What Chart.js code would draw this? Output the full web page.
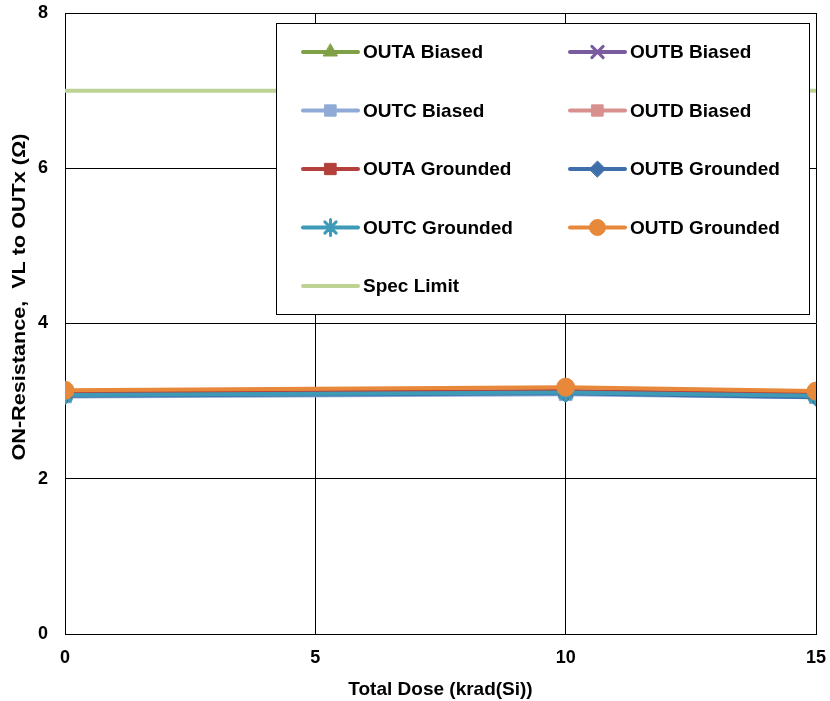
<!DOCTYPE html>
<html>
<head>
<meta charset="utf-8">
<script src="https://cdn.jsdelivr.net/npm/chart.js@4/dist/chart.umd.min.js"></script>
<style>
  html, body { margin: 0; padding: 0; background: #fff; }
  canvas { display: block; }
</style>
</head>
<body>
<canvas id="c" width="830" height="701"></canvas>
<script>
// Total dose steps (krad(Si))
const doses = [0, 10, 15];

// ON-resistance, VL to OUTx (ohm), per output and bias condition
const outaBiased   = [3.09, 3.12, 3.08];
const outbBiased   = [3.08, 3.11, 3.07];
const outcBiased   = [3.06, 3.09, 3.05];
const outdBiased   = [3.08, 3.11, 3.07];
const outaGrounded = [3.10, 3.13, 3.09];
const outbGrounded = [3.07, 3.10, 3.05];
const outcGrounded = [3.08, 3.11, 3.07];
const outdGrounded = [3.14, 3.18, 3.13];

// Spec limit line
const specDoses = [0, 15];
const specLimit = [7, 7];

const xTicks = [0, 5, 10, 15];
const yTicks = [0, 2, 4, 6, 8];

const yTitle = 'ON-Resistance,  VL to OUTx (Ω)';
const xTitle = 'Total Dose (krad(Si))';

const FONT = "'Liberation Sans', Arial, sans-serif";

function pts(xs, ys) { return xs.map((x, i) => ({ x: x, y: ys[i] })); }

function series(label, values, color, style, order) {
  return {
    label: label,
    data: pts(doses, values),
    borderColor: color,
    backgroundColor: color,
    pointBackgroundColor: color,
    pointBorderColor: color,
    borderWidth: 4,
    pointStyle: style,
    pointRadius: 9,
    pointBorderWidth: (style === 'crossRot' || style === 'star') ? 4 : 1,
    tension: 0,
    order: order
  };
}

const datasets = [
  series('OUTA Biased',   outaBiased,   '#7FA046', 'triangle', 9),
  series('OUTB Biased',   outbBiased,   '#7A5C9E', 'crossRot', 8),
  series('OUTC Biased',   outcBiased,   '#8FAAD6', 'rect',     7),
  series('OUTD Biased',   outdBiased,   '#D8908E', 'rect',     6),
  series('OUTA Grounded', outaGrounded, '#B4403C', 'rect',     5),
  series('OUTB Grounded', outbGrounded, '#3F6FAA', 'rectRot',  4),
  series('OUTC Grounded', outcGrounded, '#3D9BB8', 'star',     3),
  series('OUTD Grounded', outdGrounded, '#E8883A', 'circle',   2),
  {
    label: 'Spec Limit',
    data: pts(specDoses, specLimit),
    borderColor: '#BCD393',
    backgroundColor: '#BCD393',
    borderWidth: 4,
    pointRadius: 0,
    pointStyle: false,
    order: 1
  }
];

// Boxed two-column legend drawn inside the plot area, plus the tall y-axis title
const boxLegend = {
  id: 'boxLegend',
  afterDraw(chart) {
    const ctx = chart.ctx;
    const left = 276, top = 23, right = 809, bottom = 314;
    ctx.save();
    ctx.fillStyle = '#fff';
    ctx.fillRect(left, top, right - left, bottom - top);
    ctx.strokeStyle = '#000';
    ctx.lineWidth = 1;
    ctx.strokeRect(left + 0.5, top + 0.5, right - left, bottom - top);

    const cols = [303, 570];
    const rows = [52, 110.5, 169, 227.5, 286];
    ctx.font = 'bold 19px ' + FONT;
    ctx.textBaseline = 'middle';
    ctx.textAlign = 'left';
    chart.data.datasets.forEach((ds, i) => {
      const cx = cols[i % 2];
      const cy = rows[Math.floor(i / 2)];
      ctx.strokeStyle = ds.borderColor;
      ctx.lineWidth = 4;
      ctx.lineCap = 'round';
      ctx.beginPath();
      ctx.moveTo(cx, cy);
      ctx.lineTo(cx + 55, cy);
      ctx.stroke();
      if (ds.pointStyle) {
        ctx.fillStyle = ds.borderColor;
        ctx.strokeStyle = ds.borderColor;
        ctx.lineWidth = (ds.pointStyle === 'crossRot' || ds.pointStyle === 'star') ? 3 : 1;
        Chart.helpers.drawPoint(ctx, {
          pointStyle: ds.pointStyle, rotation: 0, radius: 8,
          borderWidth: ctx.lineWidth
        }, cx + 27.5, cy);
      }
      ctx.fillStyle = '#000';
      ctx.fillText(ds.label, cx + 60, cy + 1);
    });

    // y-axis title, rotated and drawn in a narrow, tall face
    ctx.translate(20, 297);
    ctx.rotate(-Math.PI / 2);
    ctx.scale(1.2, 1);
    ctx.font = 'bold 18px ' + FONT;
    ctx.textAlign = 'center';
    ctx.textBaseline = 'middle';
    ctx.fillStyle = '#000';
    ctx.fillText(yTitle, 0, 0);
    ctx.restore();
  }
};

new Chart(document.getElementById('c'), {
  type: 'line',
  data: { datasets: datasets },
  plugins: [boxLegend],
  options: {
    responsive: false,
    animation: false,
    layout: { padding: { top: 12, right: 14, left: 0, bottom: 0 } },
    plugins: { legend: { display: false }, tooltip: { enabled: false } },
    scales: {
      x: {
        type: 'linear',
        min: 0, max: 15,
        afterBuildTicks: s => { s.ticks = xTicks.map(v => ({ value: v })); },
        afterFit: s => { s.height = 67; s.paddingLeft = 0; s.paddingRight = 0; },
        grid: { color: '#000', lineWidth: 1, drawTicks: false },
        border: { color: '#000', width: 1 },
        ticks: { color: '#000', font: { family: FONT, size: 18, weight: 'bold' }, padding: 13, maxRotation: 0 },
        title: {
          display: true, text: xTitle, color: '#000',
          font: { family: FONT, size: 19, weight: 'bold' }, padding: { top: 0, bottom: 0 }
        }
      },
      y: {
        min: 0, max: 8,
        afterBuildTicks: s => { s.ticks = yTicks.map(v => ({ value: v })); },
        afterFit: s => { s.width = 65; s.paddingTop = 0; s.paddingBottom = 0; },
        grid: { color: '#000', lineWidth: 1, drawTicks: false },
        border: { color: '#000', width: 1 },
        ticks: { color: '#000', font: { family: FONT, size: 18, weight: 'bold' }, padding: 17 },
        title: { display: false }
      }
    }
  }
});
</script>
</body>
</html>
